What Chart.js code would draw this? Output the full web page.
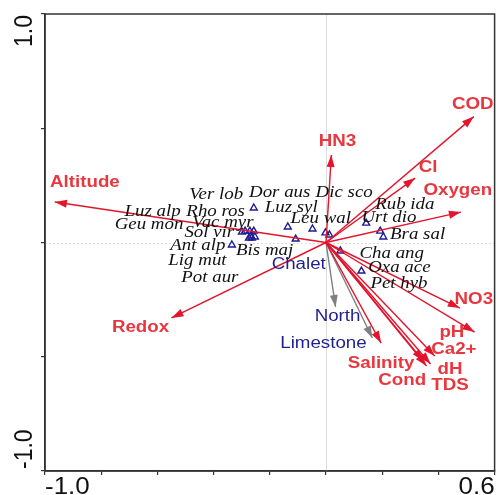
<!DOCTYPE html>
<html>
<head>
<meta charset="utf-8">
<script src="https://cdn.jsdelivr.net/npm/chart.js@4.4.1/dist/chart.umd.min.js"></script>
<style>
  body { margin: 0; background: #fff; }
  #wrap { width: 500px; height: 495px; }
</style>
</head>
<body>
<div id="wrap"><canvas id="cca"></canvas></div>
<script>
    // species scores (triangles)
    const speciesNames = ['Ver lob', 'Dor aus', 'Dic sco', 'Luz alp', 'Rho ros', 'Luz syl', 'Geu mon', 'Vac myr', 'Sol vir', 'Leu wal',
                          'Rub ida', 'Urt dio', 'Bra sal', 'Ant alp', 'Bis maj', 'Lig mut', 'Pot aur', 'Cha ang', 'Oxa ace', 'Pet hyb'];
    const speciesX = [-0.257, -0.136, -0.048, -0.299, -0.288, -0.257, -0.271, -0.274, -0.264, -0.002,
                      0.193, 0.143, 0.204, -0.335, -0.108, -0.253, -0.267, 0.051, 0.126, 0.012];
    const speciesY = [0.050, 0.068, 0.059, 0.046, 0.050, 0.151, 0.050, 0.020, 0.020, 0.042,
                      0.050, 0.085, 0.024, -0.011, 0.015, 0.024, 0.028, -0.037, -0.125, 0.033];
    // where the species names sit (left edge, middle)
    const speciesLabelX = [-0.487, -0.274, -0.037, -0.717, -0.497, -0.218, -0.752, -0.476, -0.504, -0.126,
                           0.175, 0.126, 0.228, -0.554, -0.320, -0.561, -0.515, 0.119, 0.150, 0.158];
    const speciesLabelY = [0.208, 0.217, 0.217, 0.133, 0.133, 0.151, 0.077, 0.085, 0.042, 0.103,
                           0.164, 0.107, 0.033, -0.015, -0.037, -0.081, -0.155, -0.050, -0.112, -0.182];

    // environmental variables (red arrows)
    const envNames = ['Altitude', 'Redox', 'HN3', 'COD', 'Cl', 'Oxygen', 'NO3', 'pH', 'Ca2+', 'dH', 'TDS', 'Cond', 'Salinity'];
    const envX = [-0.965, -0.550, 0.019, 0.526, 0.317, 0.480, 0.476, 0.529, 0.387, 0.372, 0.358, 0.347, 0.196];
    const envY = [0.177, -0.330, 0.383, 0.551, 0.282, 0.133, -0.287, -0.392, -0.497, -0.532, -0.541, -0.519, -0.440];
    const envLabelX = [-0.858, -0.660, 0.041, 0.522, 0.363, 0.469, 0.526, 0.448, 0.455, 0.441, 0.441, 0.271, 0.196];
    const envLabelY = [0.260, -0.374, 0.440, 0.602, 0.330, 0.225, -0.252, -0.396, -0.470, -0.558, -0.628, -0.606, -0.532];

    // supplementary variables (grey arrows) and nominal centroid
    const suppNames = ['North', 'Limestone'];
    const suppX = [0.034, 0.165];
    const suppY = [-0.282, -0.418];
    const suppLabelX = [0.041, -0.009];
    const suppLabelY = [-0.326, -0.444];
    const nominalNames = ['Chalet'];
    const nominalLabelX = [-0.097];
    const nominalLabelY = [-0.098];

    const xTickLabels = ['-1.0', '0.6'];
    const yTickLabels = ['1.0', '-1.0'];

    const RED = '#e3142c';
    const RED_TXT = '#e8373e';
    const GREY = '#808080';
    const NAVY = '#1f1f90';

    // text in the original is drawn a bit wider than tall
    function wideText(ctx, text, x, y, align, stretch, rot) {
      ctx.save();
      ctx.translate(x, y);
      ctx.scale(stretch, 1);
      if (rot) ctx.rotate(rot);
      ctx.textAlign = align;
      ctx.fillText(text, 0, 0);
      ctx.restore();
    }

    const datasets = [];
    envNames.forEach((name, i) => {
      datasets.push({
        label: name, arrow: RED,
        data: [{x: 0, y: 0}, {x: envX[i], y: envY[i]}],
        showLine: true, borderColor: RED, borderWidth: 1.4, pointRadius: 0
      });
    });
    suppNames.forEach((name, i) => {
      datasets.push({
        label: name, arrow: GREY,
        data: [{x: 0, y: 0}, {x: suppX[i], y: suppY[i]}],
        showLine: true, borderColor: GREY, borderWidth: 1.4, pointRadius: 0
      });
    });
    datasets.push({
      label: 'species',
      data: speciesX.map((x, i) => ({x: x, y: speciesY[i]})),
      pointStyle: 'triangle', pointRadius: 4,
      borderColor: '#1c1c96', backgroundColor: 'rgba(255,255,255,0)', borderWidth: 1.4
    });

    const biplot = {
      id: 'biplot',
      beforeDatasetsDraw(chart) {
        const {ctx, chartArea: a, scales: {x, y}} = chart;
        ctx.save();
        ctx.strokeStyle = '#dcdcdc';
        ctx.lineWidth = 1;
        const x0 = Math.round(x.getPixelForValue(0)) + 0.5;
        ctx.beginPath(); ctx.moveTo(x0, a.top); ctx.lineTo(x0, a.bottom); ctx.stroke();
        ctx.setLineDash([2, 2]);
        const y0 = Math.round(y.getPixelForValue(0)) + 0.5;
        ctx.beginPath(); ctx.moveTo(a.left, y0); ctx.lineTo(a.right, y0); ctx.stroke();
        ctx.restore();
      },
      afterDatasetsDraw(chart) {
        const {ctx, chartArea: a, scales: {x, y}} = chart;
        ctx.save();
        // arrow heads
        chart.data.datasets.forEach((ds, i) => {
          if (!ds.arrow) return;
          const pts = chart.getDatasetMeta(i).data;
          const p0 = pts[0], p1 = pts[1];
          const ang = Math.atan2(p1.y - p0.y, p1.x - p0.x);
          const len = 12, half = 4;
          ctx.fillStyle = ds.arrow;
          ctx.beginPath();
          ctx.moveTo(p1.x, p1.y);
          ctx.lineTo(p1.x - len * Math.cos(ang) + half * Math.sin(ang), p1.y - len * Math.sin(ang) - half * Math.cos(ang));
          ctx.lineTo(p1.x - len * Math.cos(ang) - half * Math.sin(ang), p1.y - len * Math.sin(ang) + half * Math.cos(ang));
          ctx.closePath();
          ctx.fill();
        });

        ctx.textBaseline = 'middle';
        // species names
        ctx.font = 'italic 16px "Liberation Serif", "Times New Roman", serif';
        ctx.fillStyle = '#111';
        speciesNames.forEach((n, i) => {
          wideText(ctx, n, x.getPixelForValue(speciesLabelX[i]), y.getPixelForValue(speciesLabelY[i]), 'left', 1.18);
        });
        // env names
        ctx.font = 'bold 16px "Liberation Sans", Arial, sans-serif';
        ctx.fillStyle = RED_TXT;
        envNames.forEach((n, i) => {
          wideText(ctx, n, x.getPixelForValue(envLabelX[i]), y.getPixelForValue(envLabelY[i]), 'center', 1.17);
        });
        // supplementary + nominal
        ctx.font = '16px "Liberation Sans", Arial, sans-serif';
        ctx.fillStyle = NAVY;
        suppNames.forEach((n, i) => {
          wideText(ctx, n, x.getPixelForValue(suppLabelX[i]), y.getPixelForValue(suppLabelY[i]), 'center', 1.17);
        });
        nominalNames.forEach((n, i) => {
          wideText(ctx, n, x.getPixelForValue(nominalLabelX[i]), y.getPixelForValue(nominalLabelY[i]), 'center', 1.17);
        });

        // frame
        ctx.strokeStyle = '#333';
        ctx.lineWidth = 1.5;
        ctx.strokeRect(a.left, a.top, a.right - a.left, a.bottom - a.top);

        // axis end labels
        ctx.font = '23px "Liberation Sans", Arial, sans-serif';
        ctx.fillStyle = '#111';
        ctx.textBaseline = 'alphabetic';
        wideText(ctx, xTickLabels[0], a.left, 494, 'left', 1.13);
        wideText(ctx, xTickLabels[1], a.right, 494, 'right', 1.13);
        ctx.textBaseline = 'middle';
        wideText(ctx, yTickLabels[0], 25, a.top + 1, 'right', 1.13, -Math.PI / 2);
        wideText(ctx, yTickLabels[1], 25, a.bottom - 2, 'left', 1.13, -Math.PI / 2);
        ctx.restore();
      }
    };

    const ctx = document.getElementById('cca').getContext('2d');
    new Chart(ctx, {
      type: 'scatter',
      data: { datasets: datasets },
      options: {
        responsive: true,
        maintainAspectRatio: false,
        animation: false,
        layout: { padding: { top: 14, right: 3, left: 0, bottom: 0 } },
        plugins: { legend: { display: false }, tooltip: { enabled: false } },
        scales: {
          x: {
            min: -1.0, max: 0.6,
            ticks: { stepSize: 0.2, display: false },
            grid: { drawOnChartArea: false, drawTicks: true, tickLength: 4, color: '#333', lineWidth: 1.2 },
            border: { display: true, color: '#333', width: 1.5 },
            afterFit: (s) => { s.height = 24; }
          },
          y: {
            min: -1.0, max: 1.0,
            ticks: { stepSize: 0.5, display: false },
            grid: { drawOnChartArea: false, drawTicks: true, tickLength: 4, color: '#333', lineWidth: 1.2 },
            border: { display: true, color: '#333', width: 1.5 },
            afterFit: (s) => { s.width = 45; }
          }
        }
      },
      plugins: [biplot]
    });
</script>
</body>
</html>
